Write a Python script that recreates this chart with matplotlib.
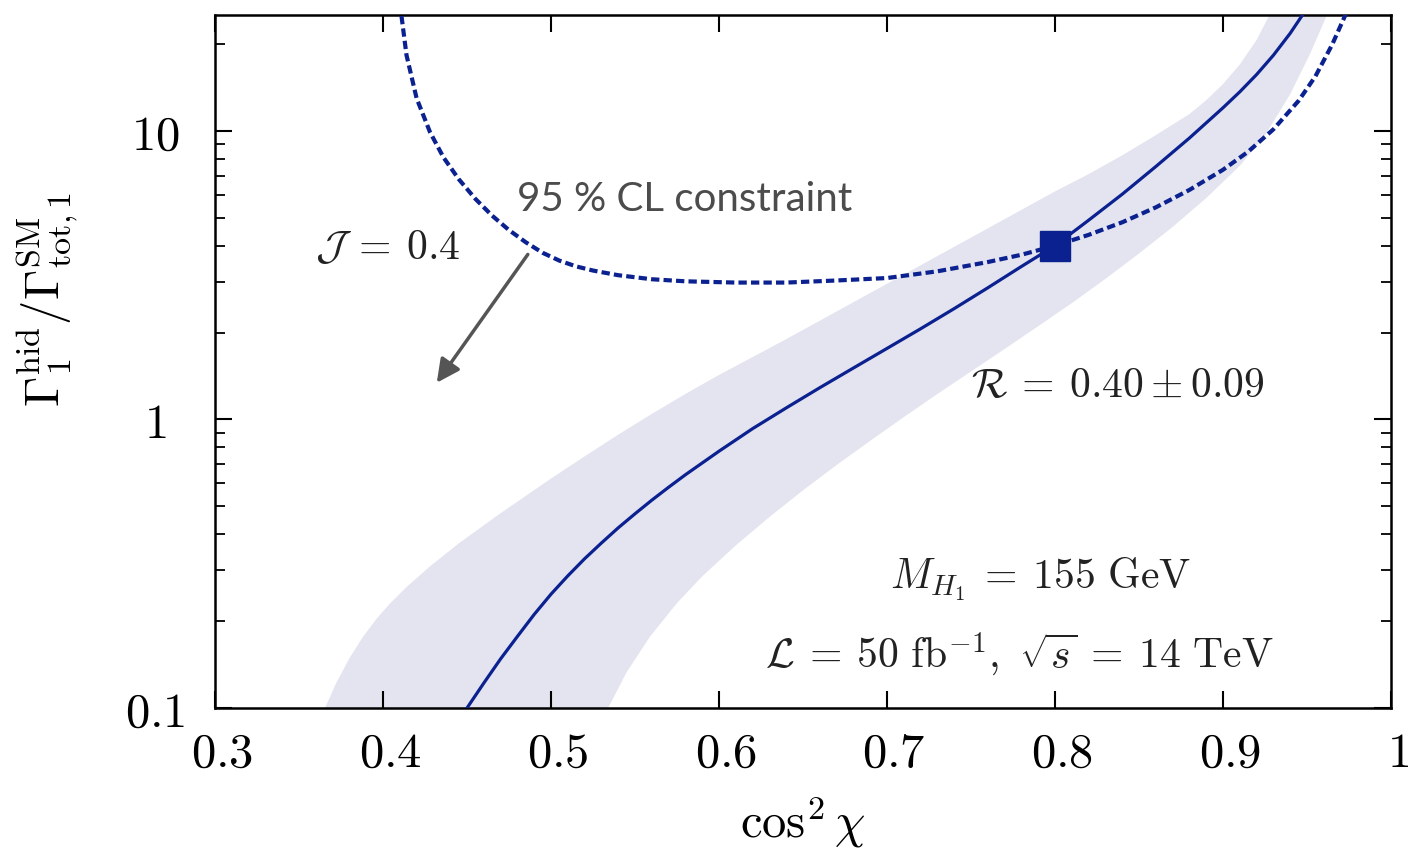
import numpy as np
import matplotlib
matplotlib.use('Agg')
import matplotlib.pyplot as plt
from matplotlib.ticker import FixedLocator, LogLocator, NullFormatter
from matplotlib.transforms import ScaledTranslation

plt.rcParams['mathtext.fontset'] = 'cm'
plt.rcParams['font.family'] = 'DejaVu Serif'

# ---------------- data ----------------
# central curve  R = 0.40
central_x = [0.450, 0.460, 0.470, 0.480, 0.490, 0.500, 0.510, 0.520, 0.530, 0.540,
             0.550, 0.560, 0.570, 0.580, 0.600, 0.620, 0.640, 0.660, 0.680, 0.700,
             0.720, 0.740, 0.760, 0.780, 0.800, 0.820, 0.840, 0.860, 0.880, 0.900,
             0.910, 0.920, 0.930, 0.940, 0.950]
central_y = [0.100, 0.122, 0.148, 0.177, 0.211, 0.248, 0.287, 0.329, 0.373, 0.421,
             0.471, 0.525, 0.582, 0.643, 0.776, 0.929, 1.096, 1.288, 1.507, 1.762,
             2.061, 2.421, 2.858, 3.388, 4.000, 4.90, 6.03, 7.52, 9.44, 12.02,
             13.65, 15.67, 18.28, 21.78, 26.6]

# uncertainty band edges (R = 0.40 +/- 0.09)
band_upper_x = [0.3655, 0.372, 0.380, 0.388, 0.396, 0.404, 0.414, 0.428, 0.445, 0.470,
                0.500, 0.520, 0.540, 0.560, 0.580, 0.600, 0.620, 0.640, 0.660, 0.680,
                0.700, 0.720, 0.740, 0.760, 0.780, 0.800, 0.820, 0.840, 0.860, 0.880,
                0.890, 0.900, 0.910, 0.920, 0.928]
band_upper_y = [0.100, 0.1216, 0.1486, 0.1762, 0.2032, 0.2296, 0.2624, 0.3097, 0.3715, 0.4732,
                0.6237, 0.7447, 0.8851, 1.045, 1.225, 1.426, 1.644, 1.897, 2.198, 2.547,
                2.951, 3.420, 3.963, 4.592, 5.321, 6.166, 7.079, 8.222, 9.661, 11.43,
                12.76, 14.52, 16.98, 20.65, 25.4]
band_lower_x = [0.534, 0.545, 0.559, 0.575, 0.590, 0.610, 0.630, 0.650, 0.670, 0.690,
                0.710, 0.730, 0.750, 0.770, 0.790, 0.810, 0.830, 0.850, 0.870, 0.890,
                0.910, 0.925, 0.940, 0.952, 0.962]
band_lower_y = [0.100, 0.133, 0.177, 0.231, 0.286, 0.366, 0.459, 0.568, 0.695, 0.843,
                1.019, 1.225, 1.466, 1.754, 2.104, 2.529, 3.069, 3.758, 4.645, 5.848,
                7.568, 9.638, 13.40, 18.58, 25.3]

# 95 % CL constraint (dashed)
cl_x = [0.411, 0.414, 0.420, 0.428, 0.436, 0.445, 0.455, 0.465, 0.475, 0.485,
        0.495, 0.505, 0.515, 0.525, 0.540, 0.560, 0.580, 0.610, 0.640, 0.670,
        0.700, 0.730, 0.760, 0.780, 0.800, 0.820, 0.840, 0.860, 0.880, 0.900,
        0.915, 0.930, 0.945, 0.955, 0.965, 0.9735]
cl_y = [25.0, 18.28, 12.97, 9.89, 8.09, 6.81, 5.81, 5.08, 4.53, 4.11,
        3.78, 3.55, 3.39, 3.28, 3.16, 3.06, 3.01, 2.98, 2.98, 3.03,
        3.09, 3.26, 3.51, 3.72, 4.00, 4.36, 4.82, 5.43, 6.24, 7.33,
        8.47, 10.12, 12.71, 15.45, 19.91, 25.7]

# benchmark point
point_x = [0.80]
point_y = [4.0]

xticks = [0.3, 0.4, 0.5, 0.6, 0.7, 0.8, 0.9, 1.0]
xticklabels = ['0.3', '0.4', '0.5', '0.6', '0.7', '0.8', '0.9', '1']
yticks = [0.1, 1, 10]
yticklabels = ['0.1', '1', '10']

# ---------------- figure ----------------
W, H = 1408, 860
fig = plt.figure(figsize=(W / 100, H / 100), dpi=100)
ax = fig.add_axes([215 / W, 1 - 708 / H, (1391 - 215) / W, (708 - 15) / H])
ax.set_yscale('log')
ax.set_xlim(0.3, 1.0)
ax.set_ylim(0.1, 25.2)

blue = '#0b2190'
band_col = '#e3e4ef'

poly_x = list(band_upper_x) + list(band_lower_x[::-1])
poly_y = list(band_upper_y) + list(band_lower_y[::-1])
ax.fill(poly_x, poly_y, color=band_col, lw=0, zorder=1)

ax.plot(central_x, central_y, color=blue, lw=2.3, zorder=3, solid_joinstyle='round')
ax.plot(cl_x, cl_y, color=blue, lw=3.0, ls=(0, (2.0, 1.0)), zorder=3)
ax.plot(point_x, point_y, marker='s', ms=21, color=blue, ls='none', zorder=4)

# ticks
ax.xaxis.set_major_locator(FixedLocator(xticks))
ax.set_xticklabels(['$' + t + '$' for t in xticklabels])
ax.yaxis.set_major_locator(FixedLocator(yticks))
ax.set_yticklabels(['$' + t + '$' for t in yticklabels])
ax.yaxis.set_minor_locator(LogLocator(base=10, subs=np.arange(2, 10), numticks=20))
ax.yaxis.set_minor_formatter(NullFormatter())
ax.xaxis.set_minor_locator(FixedLocator([]))

ax.tick_params(which='both', direction='in', top=True, right=True)
ax.tick_params(which='major', length=12, width=1.5)
ax.tick_params(which='minor', length=7, width=1.3)
ax.tick_params(axis='x', labelsize=35, pad=16)
ax.tick_params(axis='y', labelsize=35, pad=43)
for lab in ax.get_yticklabels():
    lab.set_horizontalalignment('center')
for lab in ax.get_xticklabels():
    lab.set_transform(lab.get_transform() + ScaledTranslation(0.07, 0, fig.dpi_scale_trans))

for sp in ax.spines.values():
    sp.set_linewidth(1.8)

ax.set_xlabel(r'$\cos^2\chi$', fontsize=35)
ax.xaxis.set_label_coords(0.5, -0.125)
ax.set_ylabel(r'$\Gamma_1^{\rm hid}/\Gamma_{\rm tot,1}^{\rm SM}$', fontsize=35)
ax.yaxis.set_label_coords(-0.115, 0.59)

# annotations
ax.text(0.480, 5.79, '95 % CL constraint', family='Lato', fontsize=29,
        color='#4c4c4c', ha='left', va='center')
ax.text(0.3595, 3.95, r'$\mathcal{J}\:=\:0.4$', fontsize=30, ha='left', va='center', color='#222222')
ax.annotate('', xy=(0.432, 1.34), xytext=(0.4862, 3.73),
            arrowprops=dict(arrowstyle='-|>', color='#555555', lw=2.5,
                            mutation_scale=35, shrinkA=0, shrinkB=0))
ax.text(0.750, 1.32, r'$\mathcal{R}\:=\:0.40 \pm 0.09$', fontsize=30, ha='left', va='center', color='#222222')
ax.text(0.7913, 0.279, r'$M_{H_1}\:=\:155\ \mathrm{GeV}$', fontsize=30, ha='center', va='center', color='#222222')
ax.text(0.7788, 0.1532, r'$\mathcal{L}\:=\:50\ \mathrm{fb}^{-1},\ \sqrt{s}\:=\:14\ \mathrm{TeV}$',
        fontsize=30, ha='center', va='center', color='#222222')

fig.savefig('out.png', dpi=100)
